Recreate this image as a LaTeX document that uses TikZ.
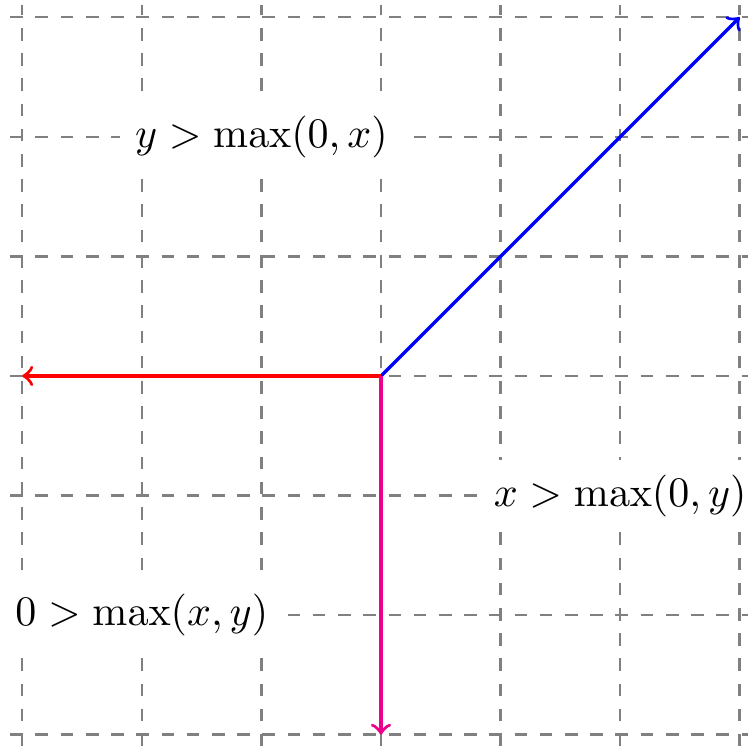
\documentclass[tikz,border=0pt]{standalone}
\usepackage{amsmath,amssymb}
\usepackage{tikz}
\usetikzlibrary{positioning}
\definecolor{cmykmagenta}{RGB}{236,0,140}

\begin{document}
\begin{tikzpicture}[
  gridline/.style={gray, dashed, semithick},
  ray/.style={->, thick},
  region/.style={fill=white, inner sep=3.5pt}
]
\useasboundingbox (-3.186,-3.094) rectangle (3.069,3.144);
\draw[gridline, step=1] (-3.1,-3.1) grid (3.1,3.1);
\coordinate (o) at (0,0);
\coordinate (ne) at (3,3);
\coordinate (w) at (-3,0);
\coordinate (s) at (0,-3);
\draw[ray, blue] (o) -- (ne);
\draw[ray, red] (o) -- (w);
\draw[ray, cmykmagenta] (o) -- (s);
\node[region] (ypos) at (-1,2) {$y > \max(0,x)$};
\node[region] (xpos) at (2,-1) {$x > \max(0,y)$};
\node[region] (neg) at (-2,-2) {$0 > \max(x,y)$};
\end{tikzpicture}
\end{document}
